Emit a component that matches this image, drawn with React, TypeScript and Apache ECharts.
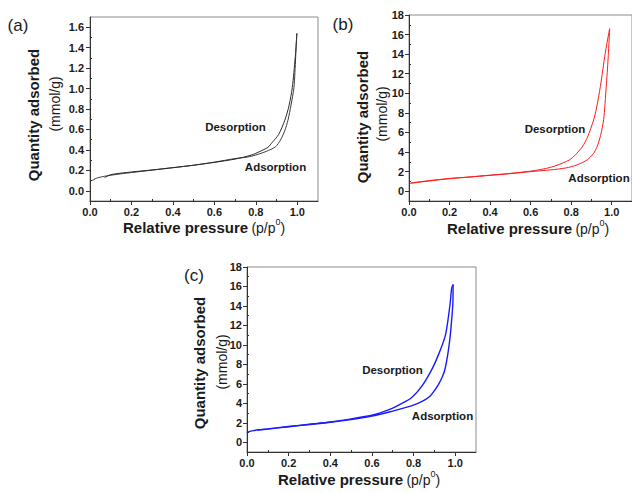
import React, { useEffect, useRef } from "react";
import * as echarts from "echarts";

// Tick values
const xMajorTicks = [0, 0.2, 0.4, 0.6, 0.8, 1.0];
const xMinorTicks = [0.1, 0.3, 0.5, 0.7, 0.9];
const yMajorTicksA = [0, 0.2, 0.4, 0.6, 0.8, 1.0, 1.2, 1.4, 1.6];
const yMinorTicksA = [0.1, 0.3, 0.5, 0.7, 0.9, 1.1, 1.3, 1.5];
const yMajorTicksBC = [0, 2, 4, 6, 8, 10, 12, 14, 16, 18];
const yMinorTicksBC = [1, 3, 5, 7, 9, 11, 13, 15, 17];

// Panel (a)
const adsorptionA: [number, number][] = [
  [0.01, 0.1], [0.03, 0.122], [0.06, 0.138], [0.1, 0.152], [0.15, 0.166], [0.2, 0.178],
  [0.3, 0.202], [0.4, 0.226], [0.5, 0.25], [0.6, 0.28], [0.7, 0.315], [0.76, 0.33],
  [0.8, 0.35], [0.85, 0.385], [0.895, 0.43], [0.92, 0.5], [0.94, 0.59], [0.955, 0.69],
  [0.97, 0.84], [0.984, 1.01], [0.992, 1.3], [0.998, 1.54],
];
const desorptionA: [number, number][] = [
  [0.998, 1.54], [0.99, 1.3], [0.976, 1.01], [0.96, 0.83], [0.94, 0.69], [0.91, 0.55],
  [0.88, 0.475], [0.858, 0.425], [0.82, 0.385], [0.78, 0.35], [0.7, 0.31], [0.6, 0.278],
  [0.5, 0.25], [0.4, 0.226], [0.3, 0.204], [0.2, 0.184], [0.1, 0.158], [0.07, 0.128],
];

// Panel (b)
const adsorptionB: [number, number][] = [
  [0.005, 0.8], [0.05, 0.92], [0.1, 1.05], [0.2, 1.28], [0.3, 1.45], [0.4, 1.62],
  [0.5, 1.8], [0.6, 2.0], [0.7, 2.18], [0.775, 2.38], [0.83, 2.7], [0.879, 3.2],
  [0.91, 3.85], [0.928, 4.55], [0.945, 5.7], [0.96, 7.3], [0.973, 10.7], [0.982, 13.5],
  [0.99, 16.6],
];
const desorptionB: [number, number][] = [
  [0.99, 16.6], [0.985, 16.1], [0.968, 14.1], [0.944, 10.7], [0.925, 8.5], [0.911, 7.3],
  [0.88, 5.5], [0.855, 4.54], [0.82, 3.7], [0.79, 3.18], [0.73, 2.65], [0.678, 2.33],
  [0.6, 2.05], [0.5, 1.82], [0.4, 1.64], [0.3, 1.46], [0.2, 1.3], [0.1, 1.08], [0.01, 0.85],
];

// Panel (c)
const adsorptionC: [number, number][] = [
  [0.0, 0.95], [0.01, 1.1], [0.03, 1.2], [0.06, 1.28], [0.1, 1.35], [0.2, 1.6],
  [0.3, 1.82], [0.4, 2.05], [0.5, 2.33], [0.6, 2.68], [0.7, 3.2], [0.76, 3.55],
  [0.815, 3.95], [0.85, 4.3], [0.88, 4.75], [0.9, 5.3], [0.92, 5.95], [0.94, 6.8],
  [0.952, 7.6], [0.965, 9.1], [0.976, 10.9], [0.984, 12.8], [0.989, 14.3], [0.99, 16.2],
];
const desorptionC: [number, number][] = [
  [0.99, 16.2], [0.983, 15.8], [0.976, 14.3], [0.965, 12.5], [0.952, 10.9], [0.92, 9.0],
  [0.888, 7.48], [0.84, 5.76], [0.79, 4.57], [0.735, 3.88], [0.7, 3.5], [0.64, 3.02],
  [0.6, 2.78], [0.5, 2.4], [0.4, 2.08], [0.3, 1.85], [0.2, 1.62], [0.1, 1.38], [0.05, 1.25],
];

const FONT = "'Liberation Sans', Arial, sans-serif";
const AXIS_COLOR = "#333";
const TEXT_COLOR = "#1a1a1a";

function makeAxes(
  g: number,
  yMin: number,
  yMax: number,
  yMajor: number[],
  yMinor: number[],
  yFmt: (v: number) => string,
  yMargin: number
) {
  const xMain = {
    type: "value",
    gridIndex: g,
    min: 0,
    max: 1.1,
    position: "bottom",
    axisLine: { show: true, onZero: false, lineStyle: { color: AXIS_COLOR, width: 1 } },
    axisTick: { show: true, inside: false, length: 4, customValues: xMajorTicks, lineStyle: { color: AXIS_COLOR } },
    axisLabel: {
      customValues: xMajorTicks,
      formatter: (v: number) => v.toFixed(1),
      color: TEXT_COLOR,
      fontFamily: FONT,
      fontWeight: "bold",
      fontSize: 11,
      margin: 5,
    },
    splitLine: { show: false },
  };
  const xMinor = {
    type: "value",
    gridIndex: g,
    min: 0,
    max: 1.1,
    position: "bottom",
    axisLine: { show: false, onZero: false },
    axisTick: { show: true, inside: true, length: 2, customValues: xMinorTicks, lineStyle: { color: AXIS_COLOR } },
    axisLabel: { show: false },
    splitLine: { show: false },
  };
  const yMain = {
    type: "value",
    gridIndex: g,
    min: yMin,
    max: yMax,
    position: "left",
    axisLine: { show: true, onZero: false, lineStyle: { color: AXIS_COLOR, width: 1 } },
    axisTick: { show: true, inside: false, length: 4, customValues: yMajor, lineStyle: { color: AXIS_COLOR } },
    axisLabel: {
      customValues: yMajor,
      formatter: yFmt,
      color: TEXT_COLOR,
      fontFamily: FONT,
      fontWeight: "bold",
      fontSize: 11,
      margin: yMargin,
    },
    splitLine: { show: false },
  };
  const yMinorAxis = {
    type: "value",
    gridIndex: g,
    min: yMin,
    max: yMax,
    position: "left",
    axisLine: { show: false, onZero: false },
    axisTick: { show: true, inside: true, length: 2, customValues: yMinor, lineStyle: { color: AXIS_COLOR } },
    axisLabel: { show: false },
    splitLine: { show: false },
  };
  return { x: [xMain, xMinor], y: [yMain, yMinorAxis] };
}

function lineSeries(name: string, data: [number, number][], g: number, color: string, width: number) {
  return {
    name,
    type: "line",
    xAxisIndex: g * 2,
    yAxisIndex: g * 2,
    data,
    symbol: "none",
    showSymbol: false,
    smooth: 0.25,
    lineStyle: { color, width },
    itemStyle: { color },
    silent: true,
  };
}

function txt(text: string, x: number, y: number, size: number, weight: string, rotation = 0, align = "center") {
  return {
    type: "text",
    x,
    y,
    rotation,
    silent: true,
    style: {
      text,
      fill: TEXT_COLOR,
      font: `${weight} ${size}px ${FONT}`,
      textAlign: align,
      textVerticalAlign: "middle",
      align,
      verticalAlign: "middle",
    },
  };
}

function xTitle(x: number, y: number) {
  return {
    type: "text",
    x,
    y,
    silent: true,
    style: {
      text: "{b|Relative pressure} {n|(p/p}{s|0}{n|)}",
      fill: TEXT_COLOR,
      textAlign: "left",
      textVerticalAlign: "middle",
      align: "left",
      verticalAlign: "middle",
      rich: {
        b: { fontFamily: FONT, fontWeight: "bold", fontSize: 15, fill: TEXT_COLOR, color: TEXT_COLOR, lineHeight: 18, verticalAlign: "bottom" },
        n: { fontFamily: FONT, fontWeight: "normal", fontSize: 14, fill: TEXT_COLOR, color: TEXT_COLOR, lineHeight: 18, verticalAlign: "bottom" },
        s: { fontFamily: FONT, fontWeight: "normal", fontSize: 9, fill: TEXT_COLOR, color: TEXT_COLOR, lineHeight: 18, verticalAlign: "top" },
      },
    },
  };
}

export default function App() {
  const ref = useRef<HTMLDivElement>(null);
  useEffect(() => {
    if (!ref.current) return;
    const chart = echarts.init(ref.current, undefined, { renderer: "svg" });
    const a = makeAxes(0, -0.1, 1.7, yMajorTicksA, yMinorTicksA, (v: number) => v.toFixed(1), 6);
    const b = makeAxes(1, -1, 18, yMajorTicksBC, yMinorTicksBC, (v: number) => String(v), 5);
    const c = makeAxes(2, -1, 18, yMajorTicksBC, yMinorTicksBC, (v: number) => String(v), 5);
    const gridStyle = { show: true, borderColor: "#8c8c8c", borderWidth: 1, backgroundColor: "transparent", containLabel: false };
    const option = {
      animation: false,
      backgroundColor: "#ffffff",
      grid: [
        { ...gridStyle, left: 90, top: 17, width: 228, height: 184 },
        { ...gridStyle, left: 409, top: 15, width: 228, height: 186 },
        { ...gridStyle, left: 247, top: 267, width: 229, height: 185 },
      ],
      xAxis: [...a.x, ...b.x, ...c.x],
      yAxis: [...a.y, ...b.y, ...c.y],
      series: [
        lineSeries("Adsorption (a)", adsorptionA, 0, "#3a3a3a", 1),
        lineSeries("Desorption (a)", desorptionA, 0, "#2a2a2a", 1),
        lineSeries("Adsorption (b)", adsorptionB, 1, "#ff1a1a", 1),
        lineSeries("Desorption (b)", desorptionB, 1, "#ff1a1a", 1),
        lineSeries("Adsorption (c)", adsorptionC, 2, "#1a1aff", 1.4),
        lineSeries("Desorption (c)", desorptionC, 2, "#1a1aff", 1.4),
      ],
      graphic: [
        txt("(a)", 18, 25, 17, "normal"),
        txt("(b)", 343, 24, 17, "normal"),
        txt("(c)", 194, 275, 17, "normal"),
        txt("Quantity adsorbed", 33, 115, 15, "bold", Math.PI / 2),
        txt("(mmol/g)", 55, 104, 14, "normal", Math.PI / 2),
        txt("Quantity adsorbed", 362, 117, 15, "bold", Math.PI / 2),
        txt("(mmol/g)", 382, 114, 14, "normal", Math.PI / 2),
        txt("Quantity adsorbed", 199, 363, 15, "bold", Math.PI / 2),
        txt("(mmol/g)", 222, 362, 14, "normal", Math.PI / 2),
        xTitle(123, 226),
        xTitle(447, 227),
        xTitle(278, 478),
        txt("Desorption", 235.5, 127, 11.5, "bold"),
        txt("Adsorption", 275.5, 166.5, 11.5, "bold"),
        txt("Desorption", 555, 129, 11.5, "bold"),
        txt("Adsorption", 599, 177.5, 11.5, "bold"),
        txt("Desorption", 392.5, 369.5, 11.5, "bold"),
        txt("Adsorption", 442.5, 416, 11.5, "bold"),
      ],
    };
    chart.setOption(option as any);
    return () => chart.dispose();
  }, []);
  return (
    <div
      ref={ref}
      style={{ position: "fixed", left: 0, top: 0, width: 632, height: 493, background: "#fff" }}
    />
  );
}
